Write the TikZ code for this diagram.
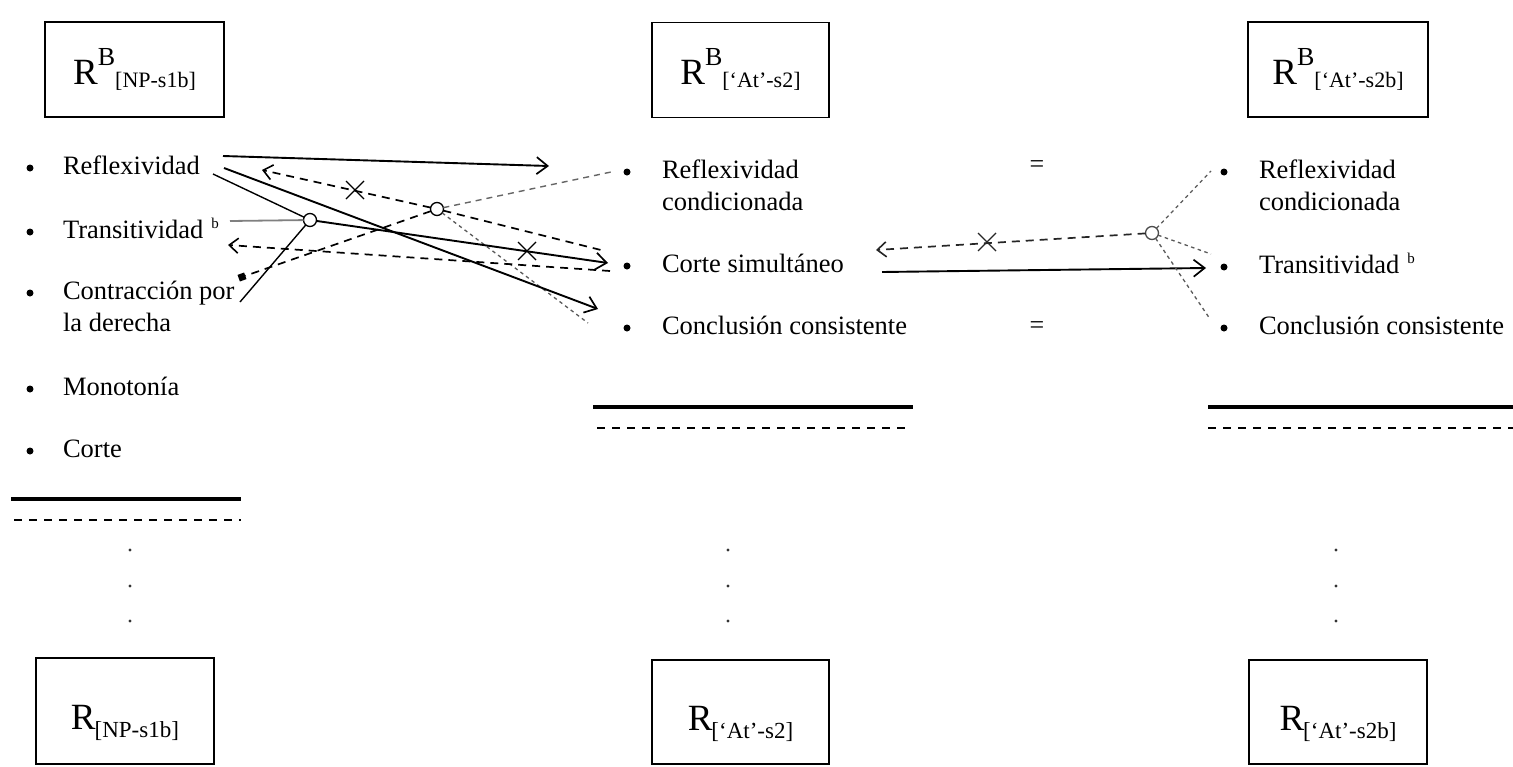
\documentclass[tikz,border=0pt]{standalone}
\usepackage{fontspec}
\setmainfont{Liberation Serif}
\usetikzlibrary{arrows.meta,shapes.misc}
\begin{document}
\begin{tikzpicture}[x=1pt,y=-1pt,
  every node/.style={inner sep=0pt, outer sep=0pt},
  item/.style={anchor=base west, font=\fontsize{26.5}{32}\selectfont, align=left},
  bul/.style={circle, fill=black, minimum size=7pt},
  topbox/.style={draw, line width=1.6pt, minimum height=95pt, text height=37pt, text depth=8pt},
  botbox/.style={draw, line width=1.6pt, minimum height=105pt, text height=46pt, text depth=10pt},
  junc/.style={circle, draw, fill=white, line width=1.3pt, minimum size=13pt},
  xmark/.style={cross out, draw, line width=1.3pt, minimum size=18pt},
  sqr/.style={rectangle, fill=black, minimum size=7pt, rotate=20},
  dotm/.style={circle, fill=black!80, minimum size=3.2pt},
  sarrow/.style={line width=1.9pt, -{Straight Barb[length=11pt,width=17pt,line width=1.7pt]}},
  thin line/.style={line width=1.4pt},
  darrow/.style={line width=1.7pt, dash pattern=on 8pt off 6pt, -{Straight Barb[length=9pt,width=15pt,line width=1.6pt]}},
  dsh/.style={line width=1.7pt, dash pattern=on 8pt off 6pt},
  ldsh/.style={line width=1.4pt, dash pattern=on 6pt off 5pt, black!60},
  dotl/.style={line width=1.3pt, dash pattern=on 3.5pt off 3.5pt, black!65},
  rsup/.style={font=\fontsize{26}{32}\selectfont}
]
\useasboundingbox (0,0) rectangle (1513,766);

% ---------- boxes ----------
\node[topbox, minimum width=179pt] (T1) at (134.5,69.5)
  {\fontsize{37}{40}\selectfont R\raisebox{19pt}{\fontsize{26}{28}\selectfont B}\raisebox{-3pt}{\fontsize{22}{24}\selectfont [NP-s1b]}};
\node[topbox, minimum width=177pt] (T2) at (740.5,70)
  {\fontsize{37}{40}\selectfont R\raisebox{19pt}{\fontsize{26}{28}\selectfont B}\raisebox{-3pt}{\fontsize{22}{24}\selectfont [‘At’-s2]}};
\node[topbox, minimum width=180pt] (T3) at (1338,69.5)
  {\fontsize{37}{40}\selectfont R\raisebox{19pt}{\fontsize{26}{28}\selectfont B}\raisebox{-3pt}{\fontsize{22}{24}\selectfont [‘At’-s2b]}};

\node[botbox, minimum width=178pt, minimum height=106pt] (B1) at (125,711)
  {\fontsize{37}{40}\selectfont R\kern-1pt\raisebox{-8pt}{\fontsize{23}{24}\selectfont [NP-s1b]}};
\node[botbox, minimum width=177pt, minimum height=104pt] (B2) at (740.5,712)
  {\fontsize{37}{40}\selectfont R\kern-1pt\raisebox{-8pt}{\fontsize{23}{24}\selectfont [‘At’-s2]}};
\node[botbox, minimum width=178pt, minimum height=104pt] (B3) at (1338,712)
  {\fontsize{37}{40}\selectfont R\kern-1pt\raisebox{-8pt}{\fontsize{23}{24}\selectfont [‘At’-s2b]}};

% ---------- left list ----------
\node[item] (L1) at (63,174) {Reflexividad};
\node[item] (L2) at (63,238) {Transitividad\hspace{8pt}\raisebox{10pt}{\fontsize{15}{16}\selectfont b}};
\node[item] (L3) at (63,331) {Contracción por\\la derecha};
\node[item] (L4) at (63,395) {Monotonía};
\node[item] (L5) at (63,457) {Corte};
\foreach \y/\n in {168/1,232/2,293/3,389/4,451/5} \node[bul] (lb\n) at (30,\y) {};

% ---------- middle list ----------
\node[item] (M1) at (662,210) {Reflexividad\\condicionada};
\node[item] (M2) at (662,272) {Corte simultáneo};
\node[item] (M3) at (662,334) {Conclusión consistente};
\foreach \y/\n in {172/1,266/2,328/3} \node[bul] (mb\n) at (627,\y) {};

% ---------- right list ----------
\node[item] (R1) at (1259,210) {Reflexividad\\condicionada};
\node[item] (R2) at (1259,273) {Transitividad\hspace{8pt}\raisebox{10pt}{\fontsize{15}{16}\selectfont b}};
\node[item] (R3) at (1259,334) {Conclusión consistente};
\foreach \y/\n in {172/1,267/2,328/3} \node[bul] (rb\n) at (1224,\y) {};

\node[rsup] (eq1) at (1037,167) {=};
\node[rsup] (eq2) at (1037,328) {=};

% ---------- rules ----------
\draw[line width=3.5pt] (11,499) -- (241,499);
\draw[line width=1.6pt, dash pattern=on 8pt off 7pt] (14,520) -- (241,520);
\draw[line width=3.5pt] (593,407) -- (913,407);
\draw[line width=1.6pt, dash pattern=on 8pt off 7pt] (597,428) -- (905,428);
\draw[line width=3.5pt] (1208,407) -- (1513,407);
\draw[line width=1.6pt, dash pattern=on 8pt off 7pt] (1208,428) -- (1513,428);

\foreach \x/\n in {130/a,728/b,1336/c} {
  \node[dotm] (dot\n1) at (\x,550) {};
  \node[dotm] (dot\n2) at (\x,586) {};
  \node[dotm] (dot\n3) at (\x,621) {};
}

% ---------- junctions ----------
\node[junc] (c1) at (310,220) {};
\node[junc] (c2) at (437,209) {};
\node[junc, draw=black!70] (c3) at (1152,233) {};
\node[sqr] (sq) at (242,277) {};

% ---------- end points ----------
\coordinate (p1) at (223,156);
\coordinate (p2) at (549,166);
\coordinate (p3) at (224,168);
\coordinate (p4) at (598,309);
\coordinate (p5) at (213,174);
\coordinate (p6) at (230,221);
\coordinate (p7) at (240,302);
\coordinate (p8) at (608,263);
\coordinate (p9) at (262,170);
\coordinate (p10) at (611,172);
\coordinate (p11) at (601,250);
\coordinate (p12) at (588,323);
\coordinate (p13) at (610,271);
\coordinate (p14) at (228,245);
\coordinate (q1) at (876,250);
\coordinate (q2) at (882,272);
\coordinate (q3) at (1206,268);
\coordinate (q4) at (1211,171);
\coordinate (q5) at (1211,254);
\coordinate (q6) at (1210,319);

% ---------- connectors (left / middle) ----------
\draw[ldsh] (c2) -- (p10);
\draw[dotl] (c2) -- (p12);
\draw[dsh] (c2) -- (p11);
\draw[dsh] (c2) -- (sq);
\draw[darrow] (c2) -- (p9);
\draw[darrow] (p13) -- (p14);
\draw[sarrow] (p1) -- (p2);
\draw[sarrow] (p3) -- (p4);
\draw[thin line] (p5) -- (c1);
\draw[line width=1.8pt, black!50] (p6) -- (c1);
\draw[thin line] (c1) -- (p7);
\draw[sarrow] (c1) -- (p8);
\node[xmark] (x1) at (355,190) {};
\node[xmark] (x2) at (527,251) {};

% ---------- connectors (right) ----------
\draw[darrow, black!85] (c3) -- (q1);
\node[xmark, black!85] (x3) at (987,242) {};
\draw[sarrow] (q2) -- (q3);
\draw[dotl] (c3) -- (q4);
\draw[dotl] (c3) -- (q5);
\draw[dotl] (c3) -- (q6);
\end{tikzpicture}
\end{document}
